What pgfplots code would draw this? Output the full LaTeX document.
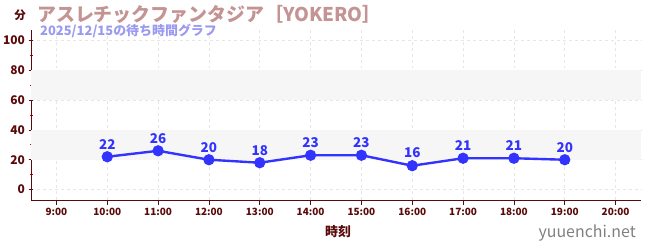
\documentclass[border=0pt]{standalone}
\usepackage{fontspec}
\setmainfont{Noto Sans CJK JP}
\usepackage{pgfplots}
\pgfplotsset{compat=1.18}
\definecolor{axc}{HTML}{5A0A0A}
\definecolor{linec}{HTML}{3333FF}
\definecolor{titlec}{HTML}{C49494}
\definecolor{subc}{HTML}{9A9AF0}
\definecolor{bandc}{HTML}{F6F6F6}
\definecolor{gridc}{HTML}{E6E6E6}
\begin{document}
\begin{tikzpicture}[x=1bp,y=1bp]
\path[use as bounding box] (0,0) rectangle (650,250);
\begin{axis}[
  at={(31bp,50bp)}, anchor=south west,
  scale only axis, width=610bp, height=170bp,
  xmin=8.5, xmax=20.5, ymin=-7, ymax=107,
  axis x line*=bottom, axis y line*=left,
  axis line style={axc, line width=0.9pt},
  xtick={9,...,20},
  xticklabels={9:00,10:00,11:00,12:00,13:00,14:00,15:00,16:00,17:00,18:00,19:00,20:00},
  ytick={0,20,...,100},
  minor ytick={10,30,...,90},
  tick style={axc, line width=0.7pt},
  minor tick style={red!80!black, line width=0.7pt},
  major tick length=5bp, minor tick length=3bp,
  xtick align=outside, ytick align=center,
  xtick pos=bottom, ytick pos=left,
  x tick label style={font=\bfseries\fontsize{10}{11}\selectfont, text=axc},
  y tick label style={font=\bfseries\fontsize{12}{13}\selectfont, text=axc},
  /pgf/number format/assume math mode=true,
  grid=major,
  major grid style={gridc, dashed, line width=0.6pt},
  clip=false,
  nodes near coords,
  every node near coord/.append style={font=\bfseries\fontsize{13.5}{14}\selectfont, text=linec, yshift=3bp},
]
\fill[bandc] (axis cs:8.5,20) rectangle (axis cs:20.5,40);
\fill[bandc] (axis cs:8.5,60) rectangle (axis cs:20.5,80);
\addplot[linec, line width=2.4pt, mark=*, mark size=4.4pt, mark options={fill=linec, draw=linec}] coordinates {
(10,22) (11,26) (12,20) (13,18) (14,23) (15,23) (16,16) (17,21) (18,21) (19,20)
};
\end{axis}
\node[anchor=west, text=titlec, font=\bfseries\fontsize{19}{20}\selectfont, inner sep=0pt] at (37,236) {アスレチックファンタジア［YOKERO］};
\node[anchor=center, text=axc, font=\bfseries\fontsize{11.5}{12}\selectfont, inner sep=0pt] at (20,235) {分};
\node[anchor=west, text=subc, font=\bfseries\fontsize{13}{14}\selectfont, inner sep=0pt] at (40,219) {2025/12/15の待ち時間グラフ};
\node[anchor=center, text=axc, font=\bfseries\fontsize{13}{14}\selectfont, inner sep=0pt] at (338,18) {時刻};
\node[anchor=east, text=gray, font=\fontsize{16}{17}\selectfont, inner sep=0pt] at (636,17) {yuuenchi.net};
\end{tikzpicture}
\end{document}
